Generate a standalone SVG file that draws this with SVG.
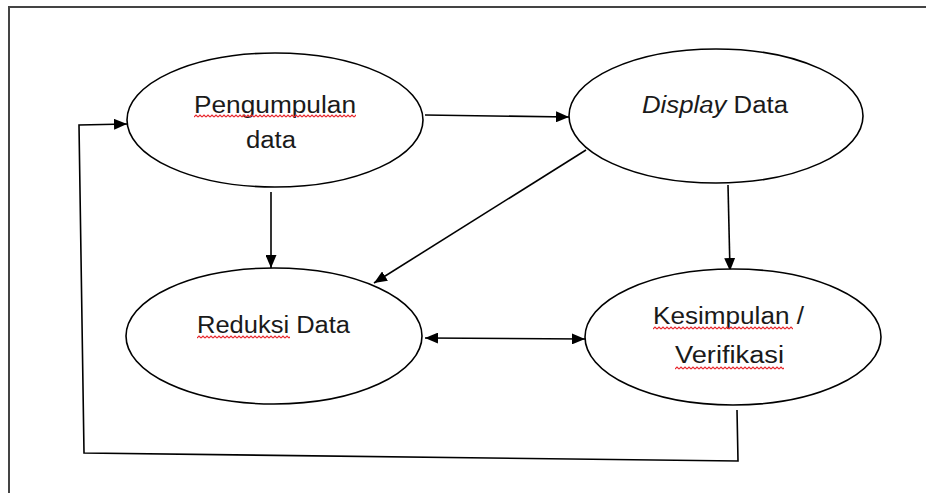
<svg xmlns="http://www.w3.org/2000/svg" width="926" height="493" viewBox="0 0 926 493">
  <style>
    .node ellipse { fill: #ffffff; stroke: #000000; stroke-width: 1.6; }
    .label { font-family: "Liberation Sans", Arial, sans-serif; font-size: 23px; fill: #1a1a1a; }
    .conn { fill: none; stroke: #000000; stroke-width: 1.6; }
    .frame { fill: none; stroke: #444444; stroke-width: 2; }
    .squig { fill: url(#squiggle); }
  </style>
  <defs>
    <marker id="arrow" viewBox="0 0 13 11" refX="13" refY="5.5" markerWidth="13" markerHeight="11" markerUnits="userSpaceOnUse" orient="auto-start-reverse">
      <path d="M0,0 L13,5.5 L0,11 z" fill="#000000"/>
    </marker>
    <pattern id="squiggle" patternUnits="userSpaceOnUse" width="4" height="4">
      <path d="M0,3 L2,1 L4,3" fill="none" stroke="#e8242a" stroke-width="1.1"/>
    </pattern>
  </defs>
  <rect width="926" height="493" fill="#ffffff"/>
  <path class="frame" d="M9,493 L9,7 L926,7"/>

  <g id="connectors">
    <line class="conn" x1="425" y1="115" x2="569" y2="117" marker-end="url(#arrow)"/>
    <line class="conn" x1="271" y1="192" x2="271" y2="268" marker-end="url(#arrow)"/>
    <line class="conn" x1="728" y1="185" x2="730" y2="271" marker-end="url(#arrow)"/>
    <line class="conn" x1="586" y1="150" x2="374" y2="283" marker-end="url(#arrow)"/>
    <line class="conn" x1="425" y1="338" x2="585" y2="339" marker-start="url(#arrow)" marker-end="url(#arrow)"/>
    <polyline class="conn" points="737,410 738,461 84,453 79,125 127,124" marker-end="url(#arrow)"/>
  </g>

  <g id="node-pengumpulan" class="node">
    <ellipse cx="275" cy="120" rx="148" ry="67"/>
    <text class="label" x="194" y="113" textLength="162" lengthAdjust="spacingAndGlyphs">Pengumpulan</text>
    <g transform="translate(194,114)"><rect class="squig" width="162" height="4"/></g>
    <text class="label" x="246" y="147.5" textLength="50" lengthAdjust="spacingAndGlyphs">data</text>
  </g>

  <g id="node-display" class="node">
    <ellipse cx="716" cy="116" rx="147" ry="67"/>
    <text class="label" x="642" y="113" textLength="146" lengthAdjust="spacingAndGlyphs"><tspan font-style="italic">Display</tspan> Data</text>
  </g>

  <g id="node-reduksi" class="node">
    <ellipse cx="274" cy="336" rx="148" ry="68"/>
    <text class="label" x="197" y="333" textLength="153" lengthAdjust="spacingAndGlyphs">Reduksi Data</text>
    <g transform="translate(197,335)"><rect class="squig" width="93" height="4"/></g>
  </g>

  <g id="node-kesimpulan" class="node">
    <ellipse cx="733" cy="337" rx="148" ry="68"/>
    <text class="label" x="653" y="324" textLength="151" lengthAdjust="spacingAndGlyphs">Kesimpulan /</text>
    <g transform="translate(653,326)"><rect class="squig" width="140" height="4"/></g>
    <text class="label" x="675" y="363" textLength="109" lengthAdjust="spacingAndGlyphs">Verifikasi</text>
    <g transform="translate(675,366)"><rect class="squig" width="109" height="4"/></g>
  </g>
</svg>
